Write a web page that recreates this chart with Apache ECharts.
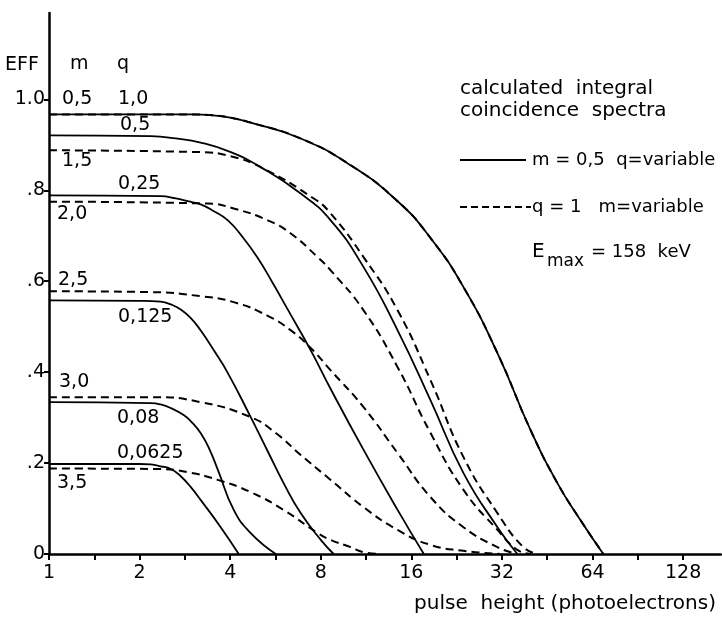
<!DOCTYPE html>
<html>
<head>
<meta charset="utf-8">
<title>calculated integral coincidence spectra</title>
<script src="https://cdn.jsdelivr.net/npm/echarts@6.0.0/dist/echarts.min.js"></script>
<style>
  html, body { margin: 0; padding: 0; background: #fff; }
  #chart { width: 722px; height: 622px; }
</style>
</head>
<body>
<div id="chart"></div>
<script>
// axis ticks
var xLabelValues = [1, 2, 4, 8, 16, 32, 64, 128];
var xTickValues = [1, 1.414, 2, 2.828, 4, 5.657, 8, 11.31, 16, 22.63, 32, 45.25, 64, 90.51, 128];
var yTickValues = [0, 0.2, 0.4, 0.6, 0.8, 1.0];
var yTickLabels = ['0', '.2', '.4', '.6', '.8', '1.0'];

// solid: m = 0,5, q variable   [pulse height, EFF]
var q100 = [[1, 0.967], [3.0, 0.967], [3.5, 0.965], [4.0, 0.96], [4.68, 0.949], [6.86, 0.914], [10.06, 0.855],
  [14.4, 0.776], [18.53, 0.695], [23.84, 0.587], [30.91, 0.442], [39.8, 0.273], [48.9, 0.156], [58.3, 0.075], [69.5, 0]];
var q050 = [[1, 0.921], [2.18, 0.919], [2.64, 0.914], [3.19, 0.905], [4.02, 0.884], [5.05, 0.851], [6.86, 0.793],
  [8.63, 0.734], [11.1, 0.631], [14.4, 0.492], [18.53, 0.338], [23.84, 0.178], [30.91, 0.059], [36, 0]];
var q025 = [[1, 0.789], [2.35, 0.787], [2.64, 0.782], [2.89, 0.776], [3.19, 0.769], [3.53, 0.754], [3.93, 0.734],
  [4.40, 0.697], [4.94, 0.651], [5.54, 0.596], [6.21, 0.538], [7.41, 0.448], [8.63, 0.363], [11.1, 0.229],
  [14.4, 0.097], [17.6, 0]];
var q0125 = [[1, 0.558], [2.02, 0.557], [2.35, 0.555], [2.54, 0.549], [2.74, 0.538], [2.96, 0.519], [3.19, 0.492],
  [3.53, 0.448], [3.93, 0.398], [4.68, 0.301], [5.33, 0.226], [6.02, 0.156], [6.86, 0.09], [8.0, 0.031], [8.83, 0]];
var q008 = [[1, 0.334], [2.18, 0.332], [2.35, 0.329], [2.54, 0.321], [2.81, 0.305], [3.0, 0.288], [3.19, 0.266],
  [3.40, 0.233], [3.64, 0.185], [4.11, 0.097], [4.68, 0.046], [5.67, 0]];
var q00625 = [[1, 0.198], [2.0, 0.198], [2.18, 0.197], [2.35, 0.193], [2.54, 0.187], [2.74, 0.171], [2.96, 0.147],
  [3.19, 0.119], [3.72, 0.059], [4.27, 0]];

// dashed: q = 1, m variable
var m05 = q100.slice();
var m15 = [[1, 0.888], [3.19, 0.884], [4.0, 0.875], [5.05, 0.851], [7.58, 0.782], [8.63, 0.749], [11.1, 0.653],
  [14.4, 0.536], [18.53, 0.382], [23.84, 0.213], [30.91, 0.09], [37.7, 0.015], [42, 0]];
var m20 = [[1, 0.775], [3.37, 0.771], [4.11, 0.760], [5.33, 0.734], [6.36, 0.705], [7.81, 0.653], [8.63, 0.624],
  [11.1, 0.536], [14.4, 0.411], [18.53, 0.266], [23.84, 0.141], [30.91, 0.053], [36, 0.009], [40, 0]];
var m25 = [[1, 0.578], [2.2, 0.576], [3.19, 0.567], [4.11, 0.554], [5.33, 0.524], [6.36, 0.492], [7.41, 0.453],
  [8.63, 0.404], [11.1, 0.323], [14.4, 0.222], [18.53, 0.125], [23.84, 0.059], [30.91, 0.015], [36, 0]];
var m30 = [[1, 0.345], [2.2, 0.345], [3.19, 0.334], [4.68, 0.301], [5.67, 0.266], [6.86, 0.218], [8.63, 0.163],
  [11.1, 0.103], [14.4, 0.053], [18.53, 0.02], [23.84, 0.007], [31.6, 0]];
var m35 = [[1, 0.188], [2.3, 0.187], [2.89, 0.180], [3.64, 0.163], [4.68, 0.136], [6.02, 0.097], [7.81, 0.046],
  [8.63, 0.031], [10.06, 0.015], [11.1, 0.004], [12.6, 0]];

var FONT = 'DejaVu Sans';

function curve(name, data, dashed) {
  return {
    name: name,
    type: 'line',
    data: data,
    smooth: 0.5,
    showSymbol: false,
    silent: true,
    lineStyle: { color: '#000', width: dashed ? 2 : 1.8, type: dashed ? [8, 5] : 'solid' }
  };
}

function txt(s, x, y, size) {
  return {
    type: 'text', x: x, y: y,
    style: { text: s, fill: '#000', font: (size || 19) + 'px "' + FONT + '"', verticalAlign: 'middle' }
  };
}

var chart = echarts.init(document.getElementById('chart'));

var option = {
  backgroundColor: '#fff',
  animation: false,
  grid: { left: 49, right: 1, top: 13, bottom: 68 },
  xAxis: {
    type: 'log',
    logBase: 2,
    min: 1,
    max: 171,
    axisLine: { lineStyle: { color: '#000', width: 2.5 } },
    axisTick: { show: true, length: 6, lineStyle: { color: '#000', width: 2 }, customValues: xTickValues },
    axisLabel: { customValues: xLabelValues, color: '#000', fontFamily: FONT, fontSize: 19, margin: 10 },
    splitLine: { show: false },
    minorSplitLine: { show: false }
  },
  yAxis: {
    type: 'value',
    min: 0,
    max: 1.19,
    interval: 0.2,
    axisLine: { show: true, lineStyle: { color: '#000', width: 2.5 } },
    axisTick: { show: true, length: 5, lineStyle: { color: '#000', width: 2 }, customValues: yTickValues },
    axisLabel: {
      customValues: yTickValues, color: '#000', fontFamily: FONT, fontSize: 19, margin: 4,
      formatter: function (v) {
        for (var i = 0; i < yTickValues.length; i++) {
          if (Math.abs(yTickValues[i] - v) < 1e-6) return yTickLabels[i];
        }
        return '';
      }
    },
    splitLine: { show: false }
  },
  series: [
    curve('q=1,0', q100, false),
    curve('q=0,5', q050, false),
    curve('q=0,25', q025, false),
    curve('q=0,125', q0125, false),
    curve('q=0,08', q008, false),
    curve('q=0,0625', q00625, false),
    curve('m=0,5', m05, true),
    curve('m=1,5', m15, true),
    curve('m=2,0', m20, true),
    curve('m=2,5', m25, true),
    curve('m=3,0', m30, true),
    curve('m=3,5', m35, true)
  ],
  graphic: [
    txt('EFF', 5, 65, 19),
    txt('m', 70, 64, 19),
    txt('q', 117, 64, 19),
    txt('0,5', 62, 99.5),
    txt('1,0', 118, 99.5),
    txt('0,5', 120, 125.5),
    txt('1,5', 62, 161.5),
    txt('0,25', 118, 184),
    txt('2,0', 57, 214.5),
    txt('2,5', 58, 280.5),
    txt('0,125', 118, 317.5),
    txt('3,0', 59, 382.5),
    txt('0,08', 117, 418.5),
    txt('0,0625', 117, 453.5),
    txt('3,5', 57, 483.5),
    txt('calculated  integral', 460, 89, 20),
    txt('coincidence  spectra', 460, 111, 20),
    { type: 'line', shape: { x1: 460, y1: 160, x2: 526, y2: 160 }, style: { stroke: '#000', lineWidth: 2 } },
    txt('m = 0,5  q=variable', 532, 160, 18),
    { type: 'line', shape: { x1: 460, y1: 207, x2: 531, y2: 207 }, style: { stroke: '#000', lineWidth: 2, lineDash: [7, 4] } },
    txt('q = 1   m=variable', 532, 207, 18),
    txt('E', 532, 252, 20),
    txt('max', 547, 262, 17),
    txt('= 158  keV', 591, 252, 18),
    {
      type: 'text', x: 716, y: 604,
      style: { text: 'pulse  height (photoelectrons)', fill: '#000', font: '20px "' + FONT + '"', align: 'right', verticalAlign: 'middle' }
    }
  ]
};

chart.setOption(option);
</script>
</body>
</html>
